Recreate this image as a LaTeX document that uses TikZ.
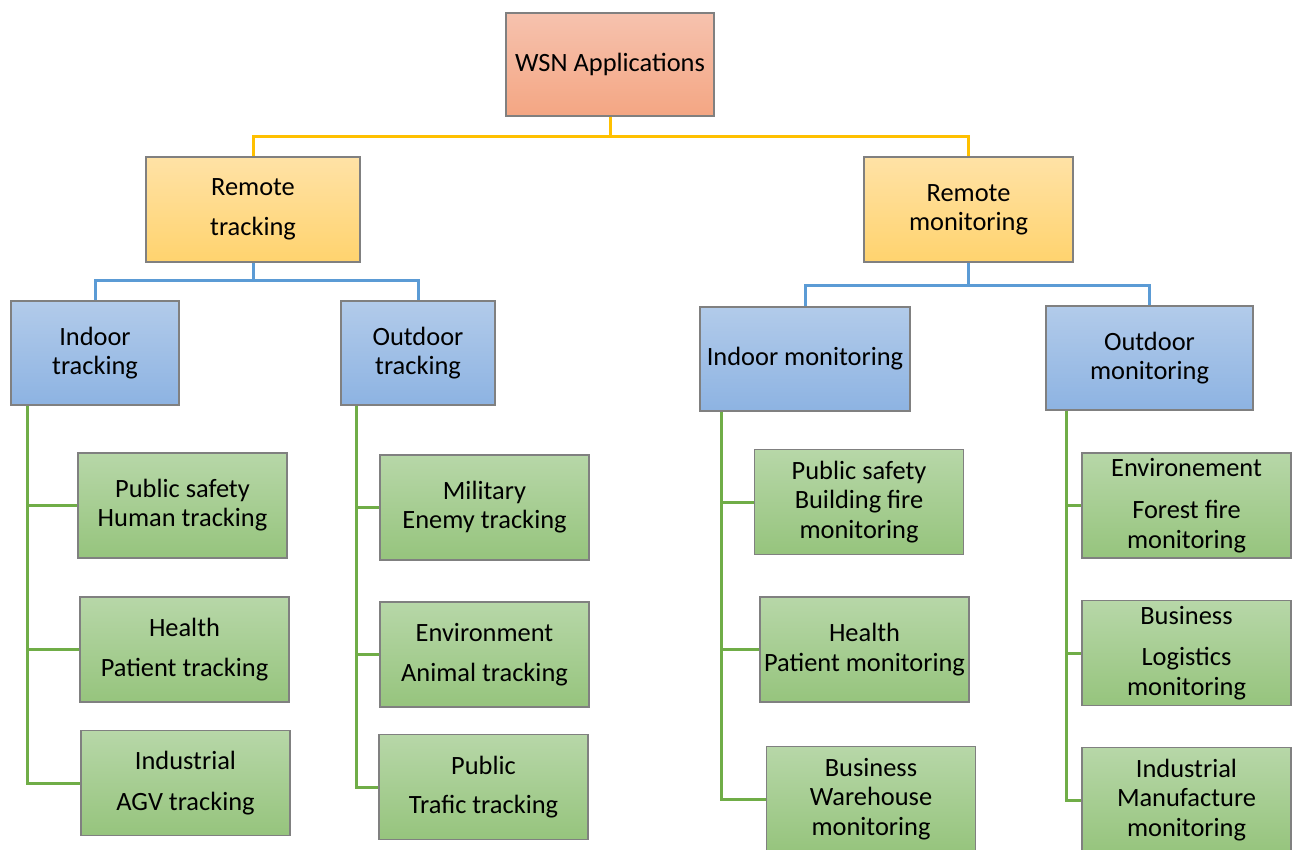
\documentclass[tikz,border=0pt]{standalone}
\usepackage{fontspec}
\setmainfont{Carlito}
\usepackage{tikz}

\definecolor{rootTop}{HTML}{F6C2AE}
\definecolor{rootBot}{HTML}{F4A683}
\definecolor{yelTop}{HTML}{FFE2A6}
\definecolor{yelBot}{HTML}{FFD36E}
\definecolor{bluTop}{HTML}{B2CBEA}
\definecolor{bluBot}{HTML}{8DB3E2}
\definecolor{grnTop}{HTML}{B7D7A8}
\definecolor{grnBot}{HTML}{96C47D}
\definecolor{boxGray}{HTML}{808080}
\definecolor{lineYel}{HTML}{FFC000}
\definecolor{lineBlu}{HTML}{5B9BD5}
\definecolor{lineGrn}{HTML}{70AD47}

\begin{document}
\begin{tikzpicture}[x=0.5pt,y=-0.5pt]
	\tikzset{
		box/.style={draw=boxGray, line width=0.6pt, rectangle, align=center, inner sep=1pt,
			font=\fontsize{13.2}{14.6}\selectfont},
		rootbox/.style={box, top color=rootTop, bottom color=rootBot},
		yelbox/.style={box, top color=yelTop, bottom color=yelBot, minimum height=52.5pt},
		blubox/.style={box, top color=bluTop, bottom color=bluBot, minimum height=52pt},
		leafbox/.style={box, top color=grnTop, bottom color=grnBot, minimum width=104.5pt, minimum height=52.5pt},
		yline/.style={draw=lineYel, line width=1.5pt},
		bline/.style={draw=lineBlu, line width=1.5pt},
		gline/.style={draw=lineGrn, line width=1.5pt}
	}
	\useasboundingbox (0,0) rectangle (1295,850);

	\node [rootbox, minimum width=104pt, minimum height=51.5pt] (wsn) at (610,64.5) {WSN Applications};

	\node [yelbox, minimum width=107pt] (rt) at (253,209.5) {Remote\\[5.5pt]tracking};
	\node [yelbox, minimum width=104.5pt] (rm) at (968.5,209.5) {Remote\\monitoring};

	\node [blubox, minimum width=84pt] (it) at (95,353) {Indoor\\tracking};
	\node [blubox, minimum width=77pt] (ot) at (418,353) {Outdoor\\tracking};
	\node [blubox, minimum width=105pt] (im) at (805,359) {Indoor monitoring};
	\node [blubox, minimum width=103.5pt] (om) at (1149.5,358) {Outdoor\\monitoring};

	\node [leafbox] (it1) at (182.5,505.5) {Public safety\\Human tracking};
	\node [leafbox] (it2) at (184.5,649.5) {Health\\[5.5pt]Patient tracking};
	\node [leafbox] (it3) at (185.5,783) {Industrial\\[5.5pt]AGV tracking};

	\node [leafbox] (ot1) at (484.5,507.5) {Military\\Enemy tracking};
	\node [leafbox] (ot2) at (484.5,654.5) {Environment\\[5.5pt]Animal tracking};
	\node [leafbox] (ot3) at (483.5,787) {Public\\[5pt]Trafic tracking};

	\node [leafbox] (im1) at (859,502) {Public safety\\Building fire\\monitoring};
	\node [leafbox] (im2) at (864.5,649.5) {Health\\Patient monitoring};
	\node [leafbox] (im3) at (871,799) {Business\\Warehouse\\monitoring};

	\node [leafbox] (om1) at (1186.5,505.5) {Environement\\[6.5pt]Forest fire\\monitoring};
	\node [leafbox] (om2) at (1186.5,653) {Business\\[6pt]Logistics\\monitoring};
	\node [leafbox] (om3) at (1186.5,800) {Industrial\\Manufacture\\monitoring};

	\draw [yline] (wsn.south) -- ++(0,20) coordinate (yj) -| (rt.north);
	\draw [yline] (yj) -| (rm.north);

	\draw [bline] (rt.south) -- ++(0,18) coordinate (bj1) -| (it.north);
	\draw [bline] (bj1) -| (ot.north);
	\draw [bline] (rm.south) -- ++(0,23) coordinate (bj2) -| (im.north);
	\draw [bline] (bj2) -| (om.north);

	\draw [gline] ([xshift=8.5pt]it.south west) |- (it3.west);
	\draw [gline] ([xshift=8.5pt]it.south west) |- (it1.west);
	\draw [gline] ([xshift=8.5pt]it.south west) |- (it2.west);
	\draw [gline] ([xshift=8pt]ot.south west) |- (ot3.west);
	\draw [gline] ([xshift=8pt]ot.south west) |- (ot1.west);
	\draw [gline] ([xshift=8pt]ot.south west) |- (ot2.west);
	\draw [gline] ([xshift=11pt]im.south west) |- (im3.west);
	\draw [gline] ([xshift=11pt]im.south west) |- (im1.west);
	\draw [gline] ([xshift=11pt]im.south west) |- (im2.west);
	\draw [gline] ([xshift=10.5pt]om.south west) |- (om3.west);
	\draw [gline] ([xshift=10.5pt]om.south west) |- (om1.west);
	\draw [gline] ([xshift=10.5pt]om.south west) |- (om2.west);
\end{tikzpicture}
\end{document}
